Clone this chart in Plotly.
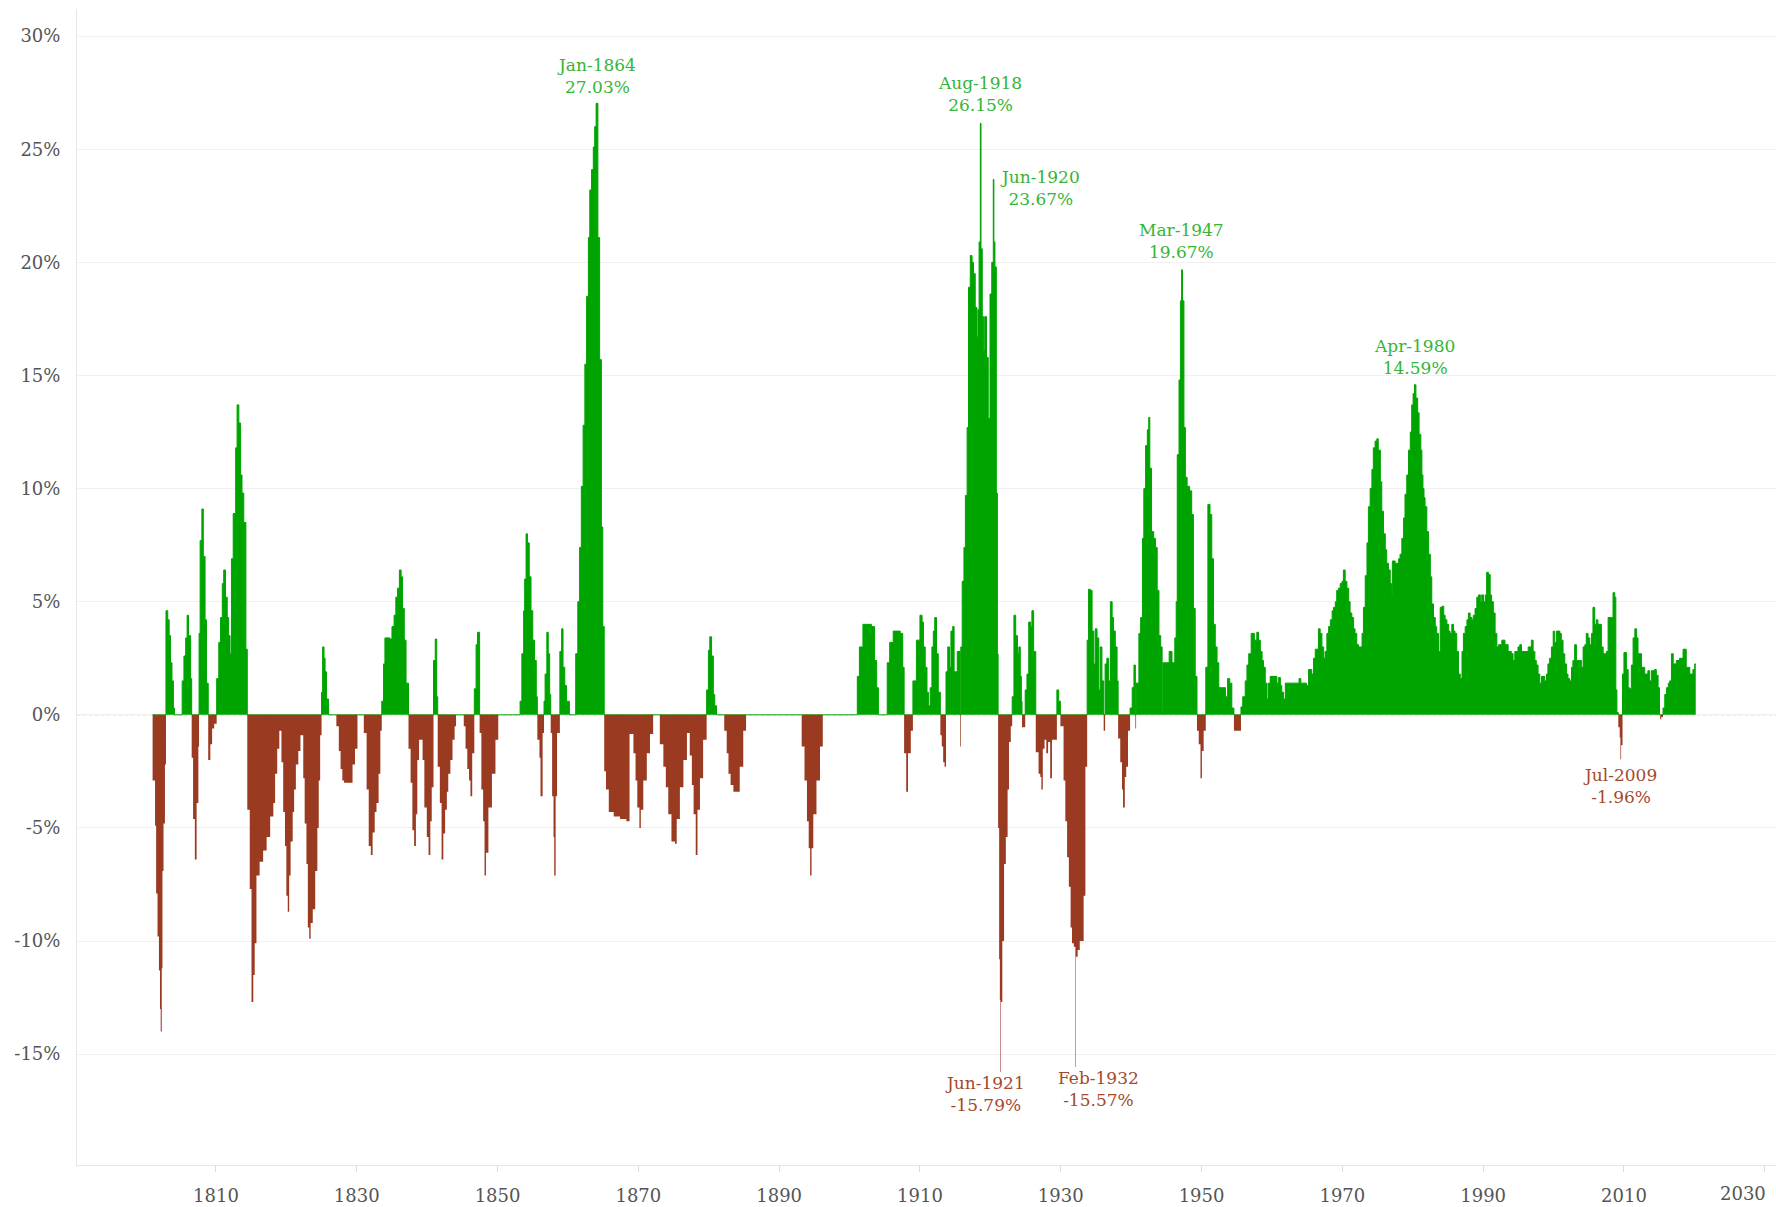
import numpy as np
import plotly.graph_objects as go

# ---------------- data: (decimal year, YoY inflation %) ----------------
ERA_1801_1860 = [
    (1801.0, -2.9), (1801.35, -4.9), (1801.5, -7.9), (1801.7, -9.8), (1801.9, -11.3), (1802.05, -13.0),
    (1802.15, -14.0), (1802.3, -11.2), (1802.4, -6.9), (1802.55, -4.8), (1802.75, -2.2),
    (1802.9, 4.6), (1803.15, 4.2), (1803.35, 3.5), (1803.55, 2.3), (1803.75, 1.5), (1803.95, 0.3), (1804.1, 0.0),
    (1805.2, 1.5), (1805.45, 2.6), (1805.7, 3.4), (1805.9, 4.4), (1806.1, 3.5), (1806.4, 1.6),
    (1806.55, -1.9), (1806.75, -4.6), (1807.0, -6.4), (1807.25, -3.9), (1807.5, -1.4),
    (1807.6, 3.6), (1807.75, 7.7), (1808.0, 9.1), (1808.2, 7.0), (1808.45, 4.2), (1808.65, 1.4),
    (1808.9, -2.0), (1809.2, -1.3), (1809.45, -0.6), (1809.75, -0.4),
    (1810.1, 1.6), (1810.4, 3.2), (1810.65, 4.3), (1810.9, 5.8), (1811.1, 6.4), (1811.35, 5.2), (1811.6, 4.3),
    (1811.8, 3.5), (1812.0, 2.7), (1812.2, 6.9), (1812.45, 8.9), (1812.8, 11.8), (1813.0, 13.7), (1813.25, 12.9),
    (1813.5, 10.6), (1813.7, 9.8), (1813.95, 8.5), (1814.25, 2.9),
    (1814.45, -4.2), (1814.8, -7.7), (1815.05, -12.7), (1815.3, -11.5), (1815.5, -10.1), (1815.75, -7.1),
    (1816.2, -6.5), (1816.7, -6.0), (1817.2, -5.4), (1817.7, -4.5), (1818.15, -3.9), (1818.4, -2.6),
    (1818.7, -1.5), (1819.0, -0.7), (1819.3, -2.1), (1819.55, -4.3), (1819.8, -5.8), (1820.0, -8.0),
    (1820.2, -8.7), (1820.4, -7.1), (1820.6, -5.6), (1820.9, -4.3), (1821.1, -3.3), (1821.35, -2.2),
    (1821.7, -1.6), (1822.0, -0.9), (1822.4, -2.8), (1822.6, -4.8), (1822.85, -6.6), (1823.05, -9.4),
    (1823.25, -9.9), (1823.45, -9.2), (1823.75, -8.6), (1824.1, -6.9), (1824.4, -5.0), (1824.6, -2.9),
    (1824.8, -0.9),
    (1825.0, 1.0), (1825.15, 3.0), (1825.35, 2.5), (1825.5, 1.9), (1825.7, 0.7), (1826.0, 0.0),
    (1827.1, -0.5), (1827.45, -1.6), (1827.7, -2.4), (1827.95, -2.9), (1828.2, -3.0), (1829.0, -3.0),
    (1829.4, -2.2), (1829.75, -1.5), (1830.1, 0.0),
    (1831.0, -0.8), (1831.4, -3.3), (1831.7, -5.8), (1832.0, -6.2), (1832.25, -5.2), (1832.55, -4.3),
    (1832.8, -3.9), (1833.1, -2.6), (1833.35, -0.7),
    (1833.55, 0.6), (1833.8, 2.25), (1834.0, 3.4), (1834.7, 3.35), (1835.0, 3.9), (1835.3, 4.4), (1835.55, 5.2),
    (1835.8, 5.6), (1836.05, 6.4), (1836.3, 6.1), (1836.5, 4.7), (1836.75, 3.3), (1837.0, 1.4),
    (1837.35, -1.5), (1837.65, -3.0), (1837.9, -5.1), (1838.15, -5.8), (1838.4, -4.4), (1838.6, -2.0),
    (1838.85, -1.1), (1839.1, -1.1), (1839.35, -2.0), (1839.6, -4.1), (1839.95, -5.4), (1840.2, -6.2),
    (1840.45, -4.7), (1840.65, -3.2),
    (1840.9, 2.4), (1841.15, 3.35), (1841.35, 0.8),
    (1841.5, -2.3), (1841.8, -3.9), (1842.05, -6.4), (1842.3, -5.25), (1842.55, -4.2), (1842.8, -3.4),
    (1843.0, -2.6), (1843.3, -2.0), (1843.6, -1.1), (1843.9, -0.5), (1844.1, 0.0),
    (1845.2, -0.5), (1845.45, -1.5), (1845.7, -2.4), (1845.95, -2.9), (1846.15, -3.6), (1846.4, -1.7),
    (1846.7, 1.15), (1846.95, 3.1), (1847.15, 3.65),
    (1847.45, -0.8), (1847.7, -3.3), (1847.95, -4.7), (1848.15, -7.1), (1848.35, -6.1), (1848.7, -4.1),
    (1849.2, -2.6), (1849.7, -1.1), (1850.1, 0.0),
    (1853.2, 0.6), (1853.45, 2.7), (1853.7, 4.6), (1853.85, 6.0), (1854.05, 8.0), (1854.25, 7.6), (1854.5, 6.1),
    (1854.75, 4.6), (1855.0, 3.3), (1855.25, 2.4), (1855.5, 0.8),
    (1855.65, -1.1), (1855.95, -1.9), (1856.1, -3.6), (1856.4, -0.8),
    (1856.6, 0.6), (1856.75, 1.8), (1857.0, 3.65), (1857.2, 2.7), (1857.4, 0.9),
    (1857.55, -0.8), (1857.75, -3.6), (1857.95, -5.4), (1858.05, -7.1), (1858.25, -3.6), (1858.45, -0.8),
    (1858.85, 2.8), (1859.1, 3.8), (1859.3, 2.1), (1859.55, 1.3), (1859.8, 0.6), (1860.2, 0.0),
]

ERA_1861_1912 = [
    (1861.1, 2.7), (1861.4, 5.0), (1861.65, 7.4), (1861.9, 10.1), (1862.15, 12.8), (1862.4, 15.5),
    (1862.65, 18.5), (1862.9, 21.1), (1863.1, 23.2), (1863.35, 24.1), (1863.6, 25.1), (1863.8, 26.0),
    (1864.0, 27.03), (1864.25, 21.1), (1864.5, 15.7), (1864.75, 8.3), (1864.95, 3.9),
    (1865.15, -2.5), (1865.4, -3.3), (1865.8, -4.3), (1866.5, -4.5), (1867.4, -4.6), (1868.3, -4.7),
    (1868.75, -0.85), (1869.3, -1.7), (1869.6, -2.9), (1869.85, -4.1), (1870.15, -5.0), (1870.35, -4.2),
    (1870.7, -2.9), (1871.2, -1.7), (1871.65, -0.85), (1872.1, 0.0),
    (1873.05, -1.3), (1873.55, -2.3), (1873.9, -3.2), (1874.25, -4.4), (1874.7, -5.6), (1875.2, -5.7),
    (1875.45, -4.6), (1875.9, -3.2), (1876.4, -2.0), (1876.9, -0.8), (1877.3, -1.8), (1877.6, -3.1),
    (1877.85, -4.4), (1878.15, -6.2), (1878.4, -4.2), (1878.75, -2.8), (1879.2, -1.1),
    (1879.7, 1.1), (1879.95, 2.85), (1880.15, 3.45), (1880.4, 2.6), (1880.65, 0.9), (1880.85, 0.4), (1881.1, 0.0),
    (1882.2, -0.7), (1882.55, -1.7), (1882.8, -2.6), (1883.1, -3.1), (1883.5, -3.4), (1884.05, -3.4),
    (1884.4, -2.3), (1884.9, -0.7), (1885.3, 0.0),
    (1893.2, -1.4), (1893.6, -2.9), (1893.95, -4.7), (1894.2, -5.9), (1894.4, -7.1), (1894.6, -5.9),
    (1894.85, -4.4), (1895.3, -2.9), (1895.8, -1.4), (1896.2, 0.0),
    (1901.1, 1.7), (1901.4, 3.0), (1901.9, 4.0), (1903.1, 3.9), (1903.55, 2.4), (1903.85, 1.2), (1904.1, 0.0),
    (1905.35, 2.3), (1905.7, 3.2), (1906.2, 3.7), (1907.2, 3.6), (1907.55, 2.1),
    (1907.75, -1.7), (1908.05, -3.4), (1908.3, -1.7), (1908.7, -0.7),
    (1909.0, 1.5), (1909.5, 3.3), (1910.0, 4.4), (1910.3, 4.1), (1910.5, 3.0), (1910.75, 2.1), (1911.0, 1.0),
    (1911.2, 0.4), (1911.45, 1.2), (1911.7, 3.0), (1911.9, 3.7), (1912.1, 4.3), (1912.35, 2.7), (1912.6, 1.0),
]

ERA_1913_1954 = [
    (1912.9, -0.9), (1913.1, -1.4), (1913.3, -2.1), (1913.5, -2.3),
    (1913.7, 1.9), (1913.95, 3.0), (1914.2, 2.1), (1914.4, 3.7), (1914.65, 3.9), (1914.85, 1.9), (1915.3, 2.8),
    (1915.7, -1.4), (1915.8, 3.0), (1916.0, 5.9), (1916.25, 7.4), (1916.45, 9.7), (1916.7, 12.7),
    (1916.9, 18.9), (1917.15, 20.3), (1917.4, 20.0), (1917.6, 19.5), (1917.85, 18.0), (1918.1, 16.7),
    (1918.25, 17.9), (1918.4, 20.9), (1918.58, 26.15), (1918.67, 20.6), (1918.85, 17.6), (1919.05, 16.1),
    (1919.2, 17.6), (1919.45, 15.8), (1919.7, 13.1), (1919.95, 18.6), (1920.2, 20.0), (1920.42, 23.67),
    (1920.5, 20.9), (1920.65, 19.8), (1920.85, 9.8), (1921.0, 2.7),
    (1921.1, -5.0), (1921.25, -10.8), (1921.35, -12.6), (1921.42, -15.79), (1921.5, -12.7), (1921.7, -10.0),
    (1921.95, -6.6), (1922.2, -5.4), (1922.45, -3.3), (1922.65, -1.2), (1922.9, -0.5),
    (1923.1, 0.8), (1923.35, 4.4), (1923.6, 3.5), (1923.85, 2.7), (1924.05, 3.0), (1924.25, 1.7), (1924.4, 0.6),
    (1924.5, -0.55), (1924.95, 1.1), (1925.2, 1.8), (1925.45, 4.1), (1925.7, 3.9), (1925.9, 4.6), (1926.15, 2.8),
    (1926.45, -1.65), (1926.85, -2.6), (1927.1, -2.75), (1927.25, -3.3), (1927.45, -1.5), (1927.7, -1.1),
    (1927.95, -1.7), (1928.2, -1.2), (1928.5, -2.8), (1928.75, -1.1),
    (1929.45, 1.1), (1929.7, 0.6),
    (1929.95, -0.5), (1930.4, -2.9), (1930.65, -4.7), (1930.9, -6.3), (1931.15, -7.6), (1931.4, -9.4),
    (1931.6, -10.1), (1931.85, -10.25), (1932.08, -15.57), (1932.15, -10.7), (1932.4, -10.4),
    (1932.7, -10.0), (1933.0, -10.0), (1933.25, -8.0), (1933.5, -2.3),
    (1933.75, 3.3), (1933.95, 5.55), (1934.2, 5.5), (1934.45, 3.7), (1934.7, 2.25), (1934.9, 3.8),
    (1935.15, 3.4), (1935.4, 1.1), (1935.6, 3.0), (1935.85, 1.5), (1936.1, -0.7), (1936.3, 2.25),
    (1936.55, 2.5), (1936.8, 1.5), (1937.05, 5.0), (1937.3, 4.3), (1937.5, 3.7), (1937.75, 3.0), (1938.0, 1.5),
    (1938.15, -1.05), (1938.45, -2.1), (1938.7, -3.3), (1938.85, -4.1), (1939.1, -2.75), (1939.3, -2.3),
    (1939.55, -0.7),
    (1939.85, 0.3), (1940.15, 1.2), (1940.4, 2.2), (1940.6, -0.6), (1940.7, 1.4), (1941.1, 3.6),
    (1941.35, 4.3), (1941.6, 7.8), (1941.8, 10.0), (1942.05, 11.9), (1942.3, 12.6), (1942.5, 13.15),
    (1942.65, 10.9), (1942.9, 8.1), (1943.2, 7.8), (1943.45, 7.4), (1943.7, 5.5), (1943.95, 3.5),
    (1944.2, 3.0), (1944.4, 0.2), (1944.5, 2.3), (1945.0, 2.3), (1945.4, 2.8), (1945.8, 2.3), (1946.2, 3.4),
    (1946.4, 5.0), (1946.55, 11.5), (1946.8, 14.8), (1947.0, 18.3), (1947.17, 19.67), (1947.3, 18.3),
    (1947.5, 12.7), (1947.7, 10.5), (1947.95, 10.1), (1948.3, 9.9), (1948.6, 8.85), (1948.85, 4.7),
    (1949.1, 1.7),
    (1949.35, -0.7), (1949.6, -1.3), (1949.85, -2.8), (1950.05, -1.6), (1950.3, -0.7),
    (1950.6, 2.1), (1950.9, 9.3), (1951.2, 8.85), (1951.45, 6.9), (1951.7, 4.0), (1951.95, 3.0), (1952.2, 2.3),
    (1952.45, 1.2), (1952.95, 1.2), (1953.4, 0.8), (1953.7, 1.6), (1954.0, 1.4), (1954.3, 0.3),
    (1954.6, -0.7),
]

ERA_1955_2020 = [
    (1955.6, 0.35), (1955.85, 0.8), (1956.2, 1.5), (1956.45, 2.2), (1956.7, 2.7), (1957.05, 3.6), (1957.5, 3.3),
    (1957.85, 3.65), (1958.1, 3.3), (1958.35, 2.8), (1958.6, 2.4), (1958.8, 2.1), (1959.05, 1.4), (1959.3, 0.7),
    (1959.5, 1.4), (1959.75, 1.7), (1960.5, 1.7), (1960.7, 1.4), (1960.95, 1.65), (1961.2, 1.3), (1961.4, 1.0),
    (1961.65, 0.7), (1961.9, 1.4), (1963.85, 1.6), (1964.1, 1.4), (1964.9, 1.3), (1965.2, 2.0), (1965.65, 1.8),
    (1965.9, 2.5), (1966.15, 2.9), (1966.6, 3.8), (1966.85, 3.6), (1967.1, 3.0), (1967.35, 2.5), (1967.55, 2.8),
    (1967.8, 3.6), (1968.05, 3.9), (1968.3, 4.2), (1968.55, 4.6), (1968.75, 4.75), (1969.0, 5.0), (1969.2, 5.5),
    (1969.45, 5.6), (1969.7, 5.8), (1969.95, 5.9), (1970.15, 6.4), (1970.4, 5.9), (1970.65, 5.6), (1970.9, 5.0),
    (1971.1, 4.5), (1971.35, 4.3), (1971.6, 3.8), (1971.8, 3.6), (1972.05, 3.1), (1972.3, 3.0), (1972.8, 3.6),
    (1973.0, 4.75), (1973.25, 6.15), (1973.5, 7.6), (1973.7, 9.2), (1973.95, 10.0), (1974.2, 10.85),
    (1974.4, 11.8), (1974.65, 12.1), (1974.9, 12.2), (1975.1, 11.7), (1975.4, 10.3), (1975.6, 9.0),
    (1975.85, 8.0), (1976.1, 7.3), (1976.3, 6.7), (1976.55, 6.4), (1976.8, 5.8), (1977.0, 5.3), (1977.1, 6.8),
    (1977.5, 6.7), (1978.0, 6.9), (1978.2, 7.1), (1978.45, 7.8), (1978.7, 8.7), (1978.9, 9.75), (1979.15, 10.6),
    (1979.4, 11.7), (1979.65, 12.5), (1979.85, 13.7), (1980.05, 14.2), (1980.25, 14.59), (1980.45, 14.0),
    (1980.7, 13.35), (1980.9, 12.4), (1981.15, 11.7), (1981.3, 10.6), (1981.45, 10.0), (1981.6, 9.6),
    (1981.75, 9.2), (1982.0, 8.1), (1982.25, 7.1), (1982.5, 6.1), (1982.7, 4.9), (1982.95, 4.3), (1983.2, 3.9),
    (1983.4, 3.6), (1983.65, 2.8), (1983.9, 4.75), (1984.15, 4.8), (1984.4, 4.4), (1984.6, 4.2), (1984.85, 4.0),
    (1985.1, 3.7), (1985.3, 3.6), (1985.55, 4.0), (1985.8, 3.7), (1986.0, 3.6), (1986.25, 2.8), (1986.5, 1.8),
    (1986.75, 1.6), (1987.0, 2.8), (1987.2, 3.6), (1987.45, 3.9), (1987.7, 4.2), (1987.9, 4.5), (1988.15, 4.3),
    (1988.4, 4.2), (1988.6, 4.4), (1988.85, 4.7), (1989.1, 5.2), (1989.35, 5.3), (1989.6, 5.0), (1989.8, 5.3),
    (1990.05, 5.0), (1990.3, 5.3), (1990.5, 6.3), (1990.75, 6.2), (1991.0, 5.3), (1991.2, 5.0), (1991.45, 4.5),
    (1991.7, 3.6), (1991.95, 3.0), (1992.2, 3.1), (1992.65, 3.3), (1993.1, 3.1), (1993.55, 2.8), (1994.0, 2.7),
    (1994.25, 2.4), (1994.5, 2.8), (1994.95, 3.0), (1995.2, 3.1), (1995.45, 2.8), (1996.4, 3.0), (1996.85, 3.3),
    (1997.1, 2.8), (1997.35, 2.4), (1997.55, 2.2), (1997.8, 1.8), (1998.05, 1.4), (1998.3, 1.7), (1998.75, 1.5),
    (1999.0, 1.8), (1999.2, 2.25), (1999.45, 2.5), (1999.7, 3.0), (1999.95, 3.7), (2000.15, 3.2), (2000.4, 3.7),
    (2000.9, 3.6), (2001.1, 3.3), (2001.35, 2.7), (2001.6, 2.25), (2001.85, 1.8), (2002.05, 1.6), (2002.3, 1.5),
    (2002.55, 2.1), (2002.75, 2.4), (2003.0, 3.1), (2003.25, 2.4), (2003.95, 2.1), (2004.2, 3.0), (2004.45, 3.1),
    (2004.65, 3.6), (2004.9, 3.4), (2005.15, 3.1), (2005.4, 3.6), (2005.6, 4.75), (2005.85, 4.0), (2006.1, 4.2),
    (2006.3, 4.0), (2006.8, 3.0), (2007.05, 2.7), (2007.5, 2.8), (2007.75, 4.3), (2008.2, 4.3), (2008.45, 5.4),
    (2008.7, 5.2), (2008.85, 1.1), (2009.0, 0.1),
    (2009.2, -0.55), (2009.4, -1.0), (2009.5, -1.96), (2009.6, -1.35),
    (2009.8, 1.8), (2010.0, 2.75), (2010.35, 2.0), (2010.6, 1.2), (2010.8, 1.15), (2011.05, 2.2), (2011.3, 3.4),
    (2011.55, 3.8), (2011.8, 3.4), (2012.0, 2.7), (2012.5, 2.1), (2012.95, 1.8), (2013.4, 1.95), (2013.65, 1.5),
    (2013.9, 1.95), (2014.35, 2.0), (2014.6, 1.75), (2014.85, 1.2), (2015.05, 0.0),
    (2015.15, -0.2), (2015.3, -0.1),
    (2015.55, 0.3), (2015.8, 0.9), (2016.05, 1.2), (2016.3, 1.4), (2016.5, 1.5), (2016.75, 2.7), (2017.0, 2.25),
    (2017.45, 2.4), (2017.9, 2.5), (2018.4, 2.9), (2018.85, 2.1), (2019.35, 1.8), (2019.8, 2.0), (2020.05, 2.25),
    (2020.2, 2.25),
]

# labelled extremes: (label, decimal year, value)
PEAKS = [("Jan-1864", 1864.0, 27.03), ("Aug-1918", 1918.58, 26.15), ("Jun-1920", 1920.42, 23.67),
         ("Mar-1947", 1947.17, 19.67), ("Apr-1980", 1980.25, 14.59)]
TROUGHS = [("Jun-1921", 1921.42, -15.79), ("Feb-1932", 1932.08, -15.57), ("Jul-2009", 2009.5, -1.96)]

X_TICKS = [1810, 1830, 1850, 1870, 1890, 1910, 1930, 1950, 1970, 1990, 2010, 2030]
Y_TICKS = [-15, -10, -5, 0, 5, 10, 15, 20, 25, 30]

# ---------------- styling ----------------
GREEN = "#00a400"
RED = "#9a3a21"
GREEN_TXT = "#35b535"
RED_TXT = "#a5492b"
FONT = "DejaVu Serif"

# label offsets in px (style only)
LABEL_STYLE = {
    "Jan-1864": dict(xshift=0, yshift=4, xanchor="center", yanchor="bottom"),
    "Aug-1918": dict(xshift=0, yshift=6, xanchor="center", yanchor="bottom"),
    "Jun-1920": dict(xshift=5, yshift=-9, xanchor="left", yanchor="middle"),
    "Mar-1947": dict(xshift=0, yshift=6, xanchor="center", yanchor="bottom"),
    "Apr-1980": dict(xshift=0, yshift=5, xanchor="center", yanchor="bottom"),
    "Jun-1921": dict(xshift=-15, yshift=1, xanchor="center", yanchor="top"),
    "Feb-1932": dict(xshift=23, yshift=1, xanchor="center", yanchor="top"),
    "Jul-2009": dict(xshift=0, yshift=-4, xanchor="center", yanchor="top"),
}

series = ERA_1801_1860 + ERA_1861_1912 + ERA_1913_1954 + ERA_1955_2020
years = np.array([p[0] for p in series])
vals = np.array([p[1] for p in series])
pos = np.maximum(vals, 0)
neg = np.minimum(vals, 0)

fig = go.Figure()
fig.add_trace(go.Scatter(x=years, y=pos, mode="lines", line=dict(shape="hv", color=GREEN, width=1),
                         fill="tozeroy", fillcolor=GREEN, hoverinfo="skip", showlegend=False))
fig.add_trace(go.Scatter(x=years, y=neg, mode="lines", line=dict(shape="hv", color=RED, width=0),
                         fill="tozeroy", fillcolor=RED, hoverinfo="skip", showlegend=False))

x0, x1 = 1790.26, 2031.6
fig.add_shape(type="line", xref="x", yref="y", x0=x0, x1=x1, y0=0, y1=0,
              line=dict(color="#bdbdbd", width=1, dash="dot"), layer="below")

for lab, x, v in PEAKS:
    fig.add_annotation(x=x, y=v, text=f"{lab}<br>{v:.2f}%", showarrow=False,
                       font=dict(family=FONT, size=17, color=GREEN_TXT), **LABEL_STYLE[lab])
for lab, x, v in TROUGHS:
    fig.add_annotation(x=x, y=v, text=f"{lab}<br>{v:.2f}%", showarrow=False,
                       font=dict(family=FONT, size=17, color=RED_TXT), **LABEL_STYLE[lab])

# last x tick label pulled inside the canvas
fig.add_annotation(x=X_TICKS[-1], y=0, xref="x", yref="paper", text=str(X_TICKS[-1]), showarrow=False,
                   xanchor="right", yanchor="top", xshift=3, yshift=-16,
                   font=dict(family=FONT, size=18, color="#555555"))

fig.update_layout(
    width=1776, height=1207,
    margin=dict(l=77, r=0, t=9, b=42),
    plot_bgcolor="white", paper_bgcolor="white",
    font=dict(family=FONT, size=18, color="#555555"),
    xaxis=dict(range=[x0, x1], tickvals=X_TICKS,
               ticktext=[str(t) for t in X_TICKS[:-1]] + [""],
               showgrid=False, zeroline=False, showline=True, linecolor="#e6e6e6", linewidth=1,
               ticks="outside", ticklen=6, tickcolor="#dddddd", ticklabelstandoff=8,
               tickfont=dict(family=FONT, size=18, color="#555555")),
    yaxis=dict(range=[-19.9, 31.2], tickvals=Y_TICKS, ticktext=[f"{t}%" for t in Y_TICKS],
               showgrid=True, gridcolor="#f0f0f0", gridwidth=1, zeroline=False,
               showline=True, linecolor="#e6e6e6", linewidth=1, ticks="", ticklabelstandoff=12,
               tickfont=dict(family=FONT, size=18, color="#555555")),
)

fig.write_html("out.html", config={"displayModeBar": False},
               post_script="document.body.style.margin='0';document.body.style.overflow='hidden';")
